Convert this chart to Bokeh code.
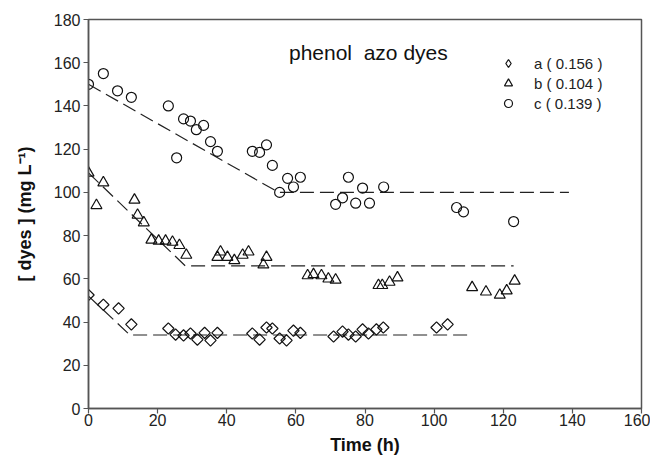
import numpy as np
from bokeh.plotting import figure
from bokeh.models import Range1d, Legend, LegendItem, Label, FixedTicker
from bokeh.embed import file_html
from bokeh.resources import INLINE

# --- data ---
a_time = [0, 4.3, 8.7, 12.4, 23.1, 25.2, 27.5, 29.5, 31.5, 33.6, 35.3, 37.3,
          47.4, 49.5, 51.5, 53.2, 55.3, 57.3, 59.3, 61.3, 70.9, 73.5, 75.2,
          77.3, 79.3, 81.0, 83.3, 85.3, 100.7, 103.9]
a_dye = [52.5, 48, 46.3, 38.9, 37, 34.2, 33.8, 34.7, 31.9, 35, 31.5, 35,
         34.7, 31.9, 37.5, 37, 32.4, 31.5, 36, 35, 33.3, 35.6, 34.2,
         33.3, 36.6, 34.7, 36.6, 37.5, 37.5, 38.9]

b_time = [0, 2.3, 4.3, 13.3, 14.2, 16, 18.2, 20.3, 22.3, 24.3, 26.3, 28.3,
          37.3, 38.2, 40.2, 42.2, 44.6, 46.3, 50.6, 51.5, 63.4, 65.1, 67.4,
          69.4, 71.5, 83.9, 85, 87.1, 89.4, 111, 115, 119, 121, 123.3]
b_dye = [109, 94, 104.5, 96.5, 89.5, 86, 78, 77.5, 77.5, 77, 75.5, 71,
         70, 72.5, 70, 68.5, 71, 72.5, 66.5, 70, 61.5, 62, 61.5,
         60, 59.5, 57, 57, 58.5, 60.5, 56, 54, 52.5, 54.5, 59]

c_time = [0, 4.3, 8.4, 12.4, 23.1, 25.5, 27.5, 29.5, 31.2, 33.3, 35.3, 37.3,
          47.4, 49.5, 51.5, 53.2, 55.3, 57.6, 59.3, 61.3, 71.5, 73.5, 75.2,
          77.3, 79.3, 81.3, 85.4, 106.5, 108.5, 123]
c_dye = [150, 155, 147, 144, 140, 116, 134, 133, 129, 131, 123.5, 119,
         119, 118.5, 122, 112.5, 100, 106.5, 102.5, 107, 94.5, 97.5, 107,
         95, 102, 95, 102.5, 93, 91, 86.5]

# fitted lines (breakpoints)
fit_a_time = [0, 12, 110]
fit_a_dye = [52, 34, 34]
fit_b_time = [0, 28, 123]
fit_b_dye = [109, 66, 66]
fit_c_time = [0, 55, 139]
fit_c_dye = [150, 100, 100]

legend_labels = ["a ( 0.156 )", "b ( 0.104 )", "c ( 0.139 )"]
title_text = "phenol\u00a0 azo dyes"
x_ticks = [0, 20, 40, 60, 80, 100, 120, 140, 160]
y_ticks = [0, 20, 40, 60, 80, 100, 120, 140, 160, 180]

FONT = "Liberation Sans"
INK = "#111111"

p = figure(width=650, height=458, x_range=Range1d(0, 160), y_range=Range1d(0, 180),
           output_backend="svg", toolbar_location=None,
           min_border_left=88, min_border_right=9, min_border_top=19, min_border_bottom=50)

p.xgrid.visible = False
p.ygrid.visible = False
p.background_fill_color = "white"
p.border_fill_color = "white"
p.outline_line_color = "#555555"
p.outline_line_width = 1.5

for ax in (p.xaxis[0], p.yaxis[0]):
    ax.axis_line_color = "#555555"
    ax.axis_line_width = 1.5
    ax.major_tick_line_color = "#555555"
    ax.major_tick_line_width = 1.2
    ax.major_tick_out = 5
    ax.major_tick_in = 0
    ax.minor_tick_line_color = None
    ax.major_label_text_font = FONT
    ax.major_label_text_font_size = "16px"
    ax.major_label_text_color = "#222222"
    ax.axis_label_text_font = FONT
    ax.axis_label_text_font_size = "18px"
    ax.axis_label_text_font_style = "bold"
    ax.axis_label_text_color = "#111111"

p.xaxis.ticker = FixedTicker(ticks=x_ticks)
p.yaxis.ticker = FixedTicker(ticks=y_ticks)
p.xaxis.axis_label = "Time (h)"
p.yaxis.axis_label = "[ dyes ] (mg L\u207b\u00b9)"
p.xaxis.major_label_standoff = 0
p.yaxis.major_label_standoff = 3
p.xaxis.axis_label_standoff = 6
p.yaxis.axis_label_standoff = 16

dash = "14 6"
for fx, fy in ((fit_a_time, fit_a_dye), (fit_b_time, fit_b_dye), (fit_c_time, fit_c_dye)):
    p.line(fx, fy, line_color="#222222", line_width=1.2, line_dash=dash)

ra = p.scatter(a_time, a_dye, marker="square", size=8, angle=np.pi / 4,
               fill_color=None, line_color=INK, line_width=1.2)
# legend-only diamond (hidden renderer, drawn in legend without inactive overlay)
ra_leg = p.scatter(a_time, a_dye, marker="diamond", size=10,
                   fill_color=None, line_color=INK, line_width=1.2, visible=False)
rb = p.scatter(b_time, b_dye, marker="triangle", size=11,
               fill_color=None, line_color=INK, line_width=1.2)
rc = p.scatter(c_time, c_dye, marker="circle", size=10,
               fill_color=None, line_color=INK, line_width=1.2)

legend = Legend(items=[LegendItem(label=legend_labels[0], renderers=[ra_leg]),
                       LegendItem(label=legend_labels[1], renderers=[rb]),
                       LegendItem(label=legend_labels[2], renderers=[rc])],
                location=(410, 295), padding=0, spacing=0, margin=0,
                glyph_width=20, glyph_height=20, label_height=20,
                label_standoff=16,
                label_text_font=FONT, label_text_font_size="15px",
                label_text_color="#222222",
                inactive_fill_alpha=0,
                border_line_color=None, background_fill_alpha=0)
p.add_layout(legend, "center")

p.add_layout(Label(x=58, y=164.5, text=title_text, text_font=FONT,
                   text_font_size="21px", text_color="#111111",
                   text_baseline="alphabetic"))

open("out.html", "w").write(file_html(p, INLINE))
